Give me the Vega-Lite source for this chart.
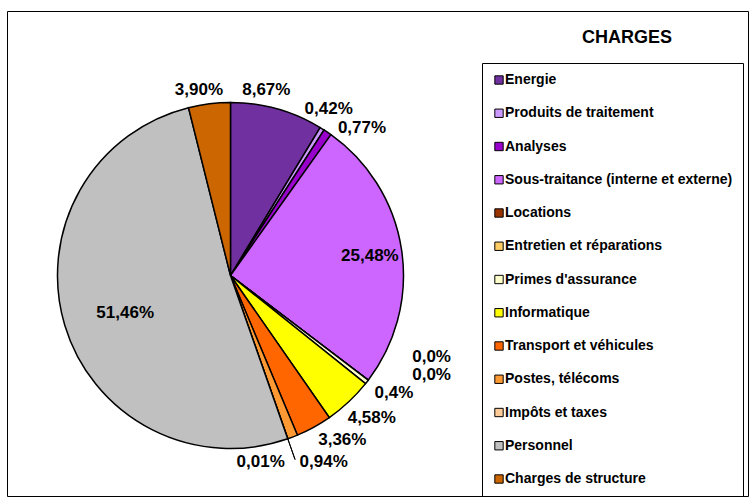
{
  "$schema": "https://vega.github.io/schema/vega-lite/v6.json",
  "width": 741,
  "height": 485,
  "autosize": {"type": "none"},
  "padding": {"left": 7, "top": 11, "right": 2, "bottom": 8},
  "background": "white",
  "config": {
    "view": {"stroke": "black", "strokeWidth": 1},
    "text": {"font": "Liberation Sans", "fontWeight": "bold", "fontSize": 17, "color": "black"},
    "legend": {"labelFont": "Liberation Sans", "labelFontWeight": "bold", "labelFontSize": 14, "labelColor": "black"}
  },
  "title": {
    "text": "CHARGES",
    "font": "Liberation Sans",
    "fontSize": 18,
    "fontWeight": "bold",
    "color": "black",
    "anchor": "middle",
    "frame": "group",
    "baseline": "alphabetic",
    "offset": 0,
    "dx": 249.5,
    "dy": 50
  },
  "data": {
    "values": [
      {"idx": 1, "cat": "Energie", "value": 8.67, "label": "8,67%"},
      {"idx": 2, "cat": "Produits de traitement", "value": 0.42, "label": "0,42%"},
      {"idx": 3, "cat": "Analyses", "value": 0.77, "label": "0,77%"},
      {"idx": 4, "cat": "Sous-traitance (interne et externe)", "value": 25.48, "label": "25,48%"},
      {"idx": 5, "cat": "Locations", "value": 0.0, "label": "0,0%"},
      {"idx": 6, "cat": "Entretien et réparations", "value": 0.0, "label": "0,0%"},
      {"idx": 7, "cat": "Primes d'assurance", "value": 0.4, "label": "0,4%"},
      {"idx": 8, "cat": "Informatique", "value": 4.58, "label": "4,58%"},
      {"idx": 9, "cat": "Transport et véhicules", "value": 3.36, "label": "3,36%"},
      {"idx": 10, "cat": "Postes, télécoms", "value": 0.94, "label": "0,94%"},
      {"idx": 11, "cat": "Impôts et taxes", "value": 0.01, "label": "0,01%"},
      {"idx": 12, "cat": "Personnel", "value": 51.46, "label": "51,46%"},
      {"idx": 13, "cat": "Charges de structure", "value": 3.90, "label": "3,90%"}
    ]
  },
  "encoding": {
    "theta": {"field": "value", "type": "quantitative", "stack": true},
    "order": {"field": "idx", "type": "quantitative"},
    "x": {"value": {"expr": "width*0.3016"}},
    "y": {"value": {"expr": "height*0.5454"}}
  },
  "layer": [
    {
      "mark": {"type": "arc", "outerRadius": 173, "stroke": "black", "strokeWidth": 1.5},
      "encoding": {
        "color": {
          "field": "cat",
          "type": "nominal",
          "sort": null,
          "scale": {
            "domain": ["Energie", "Produits de traitement", "Analyses", "Sous-traitance (interne et externe)", "Locations", "Entretien et réparations", "Primes d'assurance", "Informatique", "Transport et véhicules", "Postes, télécoms", "Impôts et taxes", "Personnel", "Charges de structure"],
            "range": ["#7030A0", "#CC99FF", "#9900CC", "#CC66FF", "#993300", "#FFCC66", "#FFFFCC", "#FFFF00", "#FF6600", "#FF9933", "#FFCC99", "#C0C0C0", "#CC6600"]
          },
          "legend": {
            "orient": "none",
            "legendX": 475,
            "legendY": 52,
            "title": null,
            "strokeColor": "black",
            "padding": 10,
            "symbolType": "square",
            "symbolSize": 70,
            "symbolStrokeColor": "black",
            "symbolStrokeWidth": 1,
            "labelFont": "Liberation Sans",
            "labelFontWeight": "bold",
            "labelFontSize": 14,
            "labelColor": "black",
            "labelOffset": -1,
            "labelLimit": 300,
            "rowPadding": 19.25
          }
        }
      }
    },
    {
      "mark": {"type": "arc", "outerRadius": 195, "innerRadius": 173, "fillOpacity": 0, "stroke": "black", "strokeWidth": 1},
      "encoding": {
        "detail": {"field": "cat"},
        "strokeOpacity": {"condition": {"test": "datum.idx === 11", "value": 1}, "value": 0}
      }
    },
    {"mark": {"type": "text", "radius": 189, "dx": -15, "dy": -3.5}, "encoding": {"detail": {"field": "cat"}, "text": {"condition": {"test": "datum.idx === 1", "field": "label"}, "value": ""}}},
    {"mark": {"type": "text", "radius": 193, "dx": -4, "dy": -3}, "encoding": {"detail": {"field": "cat"}, "text": {"condition": {"test": "datum.idx === 2", "field": "label"}, "value": ""}}},
    {"mark": {"type": "text", "radius": 197, "dx": 21, "dy": 16}, "encoding": {"detail": {"field": "cat"}, "text": {"condition": {"test": "datum.idx === 3", "field": "label"}, "value": ""}}},
    {"mark": {"type": "text", "radius": 141, "dx": 0, "dy": 1.5}, "encoding": {"detail": {"field": "cat"}, "text": {"condition": {"test": "datum.idx === 4", "field": "label"}, "value": ""}}},
    {"mark": {"type": "text", "radius": 173, "align": "left", "dx": 44, "dy": -23}, "encoding": {"detail": {"field": "cat"}, "text": {"condition": {"test": "datum.idx === 5", "field": "label"}, "value": ""}}},
    {"mark": {"type": "text", "radius": 173, "align": "left", "dx": 44, "dy": -5}, "encoding": {"detail": {"field": "cat"}, "text": {"condition": {"test": "datum.idx === 6", "field": "label"}, "value": ""}}},
    {"mark": {"type": "text", "radius": 201, "dx": 5, "dy": -6}, "encoding": {"detail": {"field": "cat"}, "text": {"condition": {"test": "datum.idx === 7", "field": "label"}, "value": ""}}},
    {"mark": {"type": "text", "radius": 201, "dx": 4, "dy": -4}, "encoding": {"detail": {"field": "cat"}, "text": {"condition": {"test": "datum.idx === 8", "field": "label"}, "value": ""}}},
    {"mark": {"type": "text", "radius": 199, "dx": 16, "dy": -10}, "encoding": {"detail": {"field": "cat"}, "text": {"condition": {"test": "datum.idx === 9", "field": "label"}, "value": ""}}},
    {"mark": {"type": "text", "radius": 173, "align": "left", "dx": 7, "dy": 25}, "encoding": {"detail": {"field": "cat"}, "text": {"condition": {"test": "datum.idx === 10", "field": "label"}, "value": ""}}},
    {"mark": {"type": "text", "radius": 173, "align": "right", "dx": -3, "dy": 23}, "encoding": {"detail": {"field": "cat"}, "text": {"condition": {"test": "datum.idx === 11", "field": "label"}, "value": ""}}},
    {"mark": {"type": "text", "radius": 112, "dx": 2, "dy": 5}, "encoding": {"detail": {"field": "cat"}, "text": {"condition": {"test": "datum.idx === 12", "field": "label"}, "value": ""}}},
    {"mark": {"type": "text", "radius": 188, "dx": -8.6, "dy": 1}, "encoding": {"detail": {"field": "cat"}, "text": {"condition": {"test": "datum.idx === 13", "field": "label"}, "value": ""}}}
  ]
}
